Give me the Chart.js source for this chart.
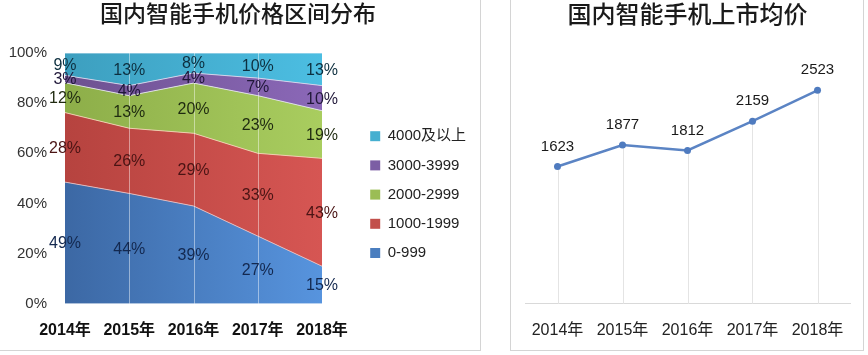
<!DOCTYPE html>
<html><head><meta charset="utf-8">
<script src="https://cdn.jsdelivr.net/npm/chart.js@4.4.1/dist/chart.umd.min.js"></script>
<style>
html,body{margin:0;padding:0;background:#fff;width:868px;height:355px;overflow:hidden;}
.panel{position:absolute;box-sizing:border-box;}
#p1{left:-2px;top:-2px;width:483px;height:353px;border-right:1px solid #d4d4d4;border-bottom:1px solid #d4d4d4;}
#p2{left:510px;top:-2px;width:354px;height:353px;border:1px solid #d4d4d4;}
#c1{position:absolute;left:0;top:0;}
#c2{position:absolute;left:510px;top:0;}
</style></head><body>
<div class="panel" id="p1"></div>
<div class="panel" id="p2"></div>
<canvas id="c1" width="476" height="357"></canvas>
<canvas id="c2" width="353" height="357"></canvas>
<script>
// ---- data ----
const years = ['2014年','2015年','2016年','2017年','2018年'];
const seriesNames = ['0-999','1000-1999','2000-2999','3000-3999','4000及以上'];
const s0_999 = [49,44,39,27,15];
const s1000_1999 = [28,26,29,33,43];
const s2000_2999 = [12,13,20,23,19];
const s3000_3999 = [3,4,4,7,10];
const s4000plus = [9,13,8,10,13];
const yTicksPct = [0,20,40,60,80,100];
const avgPrice = [1623,1877,1812,2159,2523];

const FONT = "'Liberation Sans','Noto Sans CJK SC',Arial,sans-serif";
const series = [s0_999, s1000_1999, s2000_2999, s3000_3999, s4000plus];
const totals = years.map((_, j) => series.reduce((a, s) => a + s[j], 0));

const gradPairs = [
  ['#3c68a4','#5794de'],
  ['#b6433f','#d65653'],
  ['#8dae49','#a9cd5f'],
  ['#6d5190','#8b68b8'],
  ['#3d9fbf','#4cbee2']
];
const solid = ['#4a7ebf','#c24f4b','#9bbd55','#7c5ea4','#45afd0'];
const labelCol = ['#13284f','#4a1414','#1f2a10','#21183a','#0d2f3f'];
const borderCol = ['rgba(235,190,190,0.9)','rgba(240,215,180,0.9)','rgba(225,225,235,0.9)','rgba(215,220,240,0.9)','rgba(220,235,245,0.9)'];

function grad(i){
  return (ctx) => {
    const ca = ctx.chart.chartArea;
    if (!ca) return solid[i];
    const g = ctx.chart.ctx.createLinearGradient(ca.left, 0, ca.right, 0);
    g.addColorStop(0, gradPairs[i][0]);
    g.addColorStop(1, gradPairs[i][1]);
    return g;
  };
}

const stackLabels = {
  id: 'stackLabels',
  afterDatasetsDraw(chart) {
    const ctx = chart.ctx, ca = chart.chartArea, xs = chart.scales.x, ys = chart.scales.y;
    ctx.save();
    ctx.strokeStyle = 'rgba(255,255,255,0.45)';
    ctx.lineWidth = 1;
    for (let j = 1; j < years.length - 1; j++) {
      const x = Math.round(xs.getPixelForValue(j)) + 0.5;
      ctx.beginPath(); ctx.moveTo(x, ca.top); ctx.lineTo(x, ca.bottom); ctx.stroke();
    }
    ctx.font = '16px ' + FONT;
    ctx.textAlign = 'center';
    ctx.textBaseline = 'middle';
    chart.data.datasets.forEach((ds, i) => {
      const meta = chart.getDatasetMeta(i);
      meta.data.forEach((el, j) => {
        const bottom = i === 0 ? ys.getPixelForValue(0) : chart.getDatasetMeta(i - 1).data[j].y;
        const mid = (el.y + bottom) / 2;
        ctx.fillStyle = labelCol[i];
        ctx.fillText(series[i][j] + '%', el.x, mid + 1);
      });
    });
    ctx.restore();
  }
};

new Chart(document.getElementById('c1'), {
  type: 'line',
  data: {
    labels: years,
    datasets: series.map((s, i) => ({
      label: seriesNames[i],
      data: s.map((v, j) => v / totals[j] * 100),
      backgroundColor: grad(i),
      borderColor: borderCol[i],
      borderWidth: 1,
      pointRadius: 0,
      tension: 0,
      fill: i === 0 ? 'origin' : '-1'
    }))
  },
  options: {
    responsive: false,
    animation: false,
    layout: { padding: 0 },
    scales: {
      x: {
        offset: false,
        grid: { display: false, drawTicks: false },
        border: { display: false },
        ticks: { font: { family: FONT, size: 16, weight: 'bold' }, color: '#111', padding: 17, maxRotation: 0, autoSkip: false }
      },
      y: {
        stacked: true, min: 0, max: 100,
        afterBuildTicks: (s) => { s.ticks = yTicksPct.map(v => ({ value: v })); },
        afterFit: (s) => { s.width = 65; },
        grid: { display: false, drawTicks: false },
        border: { display: false },
        ticks: { font: { family: FONT, size: 15 }, color: '#333', padding: 18, callback: v => v + '%' }
      },
      y2: {
        position: 'right', display: true,
        afterFit: (s) => { s.width = 34; },
        grid: { display: false, drawTicks: false },
        border: { display: false },
        ticks: { display: false }
      }
    },
    plugins: {
      title: {
        display: true, text: '国内智能手机价格区间分布',
        font: { family: FONT, size: 23, weight: '500' }, color: '#1a1a1a',
        padding: { top: 2, bottom: 23.4 }
      },
      legend: {
        position: 'right', align: 'start', reverse: true, maxWidth: 120,
        title: { display: true, text: '', font: { size: 10, lineHeight: 1 }, padding: { top: 104.5, bottom: 0 } },
        labels: {
          boxWidth: 10, boxHeight: 10, padding: 14.2,
          font: { family: FONT, size: 15 }, color: '#222',
          generateLabels: (chart) => Chart.defaults.plugins.legend.labels.generateLabels(chart).map(it => {
            it.fillStyle = solid[it.datasetIndex]; it.strokeStyle = solid[it.datasetIndex]; it.lineWidth = 0; return it;
          })
        }
      },
      tooltip: { enabled: false }
    }
  },
  plugins: [stackLabels]
});

const lineExtras = {
  id: 'lineExtras',
  beforeDatasetsDraw(chart) {
    const ctx = chart.ctx, ca = chart.chartArea;
    const meta = chart.getDatasetMeta(0);
    ctx.save();
    ctx.strokeStyle = '#e4e4e4'; ctx.lineWidth = 1;
    meta.data.forEach(p => {
      const x = Math.round(p.x) + 0.5;
      ctx.beginPath(); ctx.moveTo(x, p.y); ctx.lineTo(x, ca.bottom); ctx.stroke();
    });
    ctx.restore();
  },
  afterDatasetsDraw(chart) {
    const ctx = chart.ctx;
    const meta = chart.getDatasetMeta(0);
    ctx.save();
    ctx.font = '15px ' + FONT; ctx.fillStyle = '#1a1a1a';
    ctx.textAlign = 'center'; ctx.textBaseline = 'middle';
    meta.data.forEach((p, j) => ctx.fillText(String(avgPrice[j]), p.x, p.y - 20));
    ctx.restore();
  }
};

new Chart(document.getElementById('c2'), {
  type: 'line',
  data: {
    labels: years,
    datasets: [{
      label: '上市均价', data: avgPrice,
      borderColor: '#5b84c4', borderWidth: 2.5, tension: 0,
      pointRadius: 3.5, pointBackgroundColor: '#4f7bbf', pointBorderColor: '#4f7bbf', pointBorderWidth: 0,
      fill: false
    }]
  },
  options: {
    responsive: false,
    animation: false,
    layout: { padding: { left: 15, right: 13 } },
    scales: {
      x: {
        offset: true,
        grid: { display: false, drawTicks: false },
        border: { display: true, color: '#d9d9d9', width: 1 },
        ticks: { font: { family: FONT, size: 16 }, color: '#222', padding: 17, maxRotation: 0, autoSkip: false }
      },
      y: { display: false, min: 0, max: 3000 }
    },
    plugins: {
      title: {
        display: true, text: '国内智能手机上市均价',
        font: { family: FONT, size: 24, weight: '500' }, color: '#1a1a1a',
        padding: { top: 2, bottom: 19.2 }
      },
      legend: { display: false },
      tooltip: { enabled: false }
    }
  },
  plugins: [lineExtras]
});
</script>
</body></html>
